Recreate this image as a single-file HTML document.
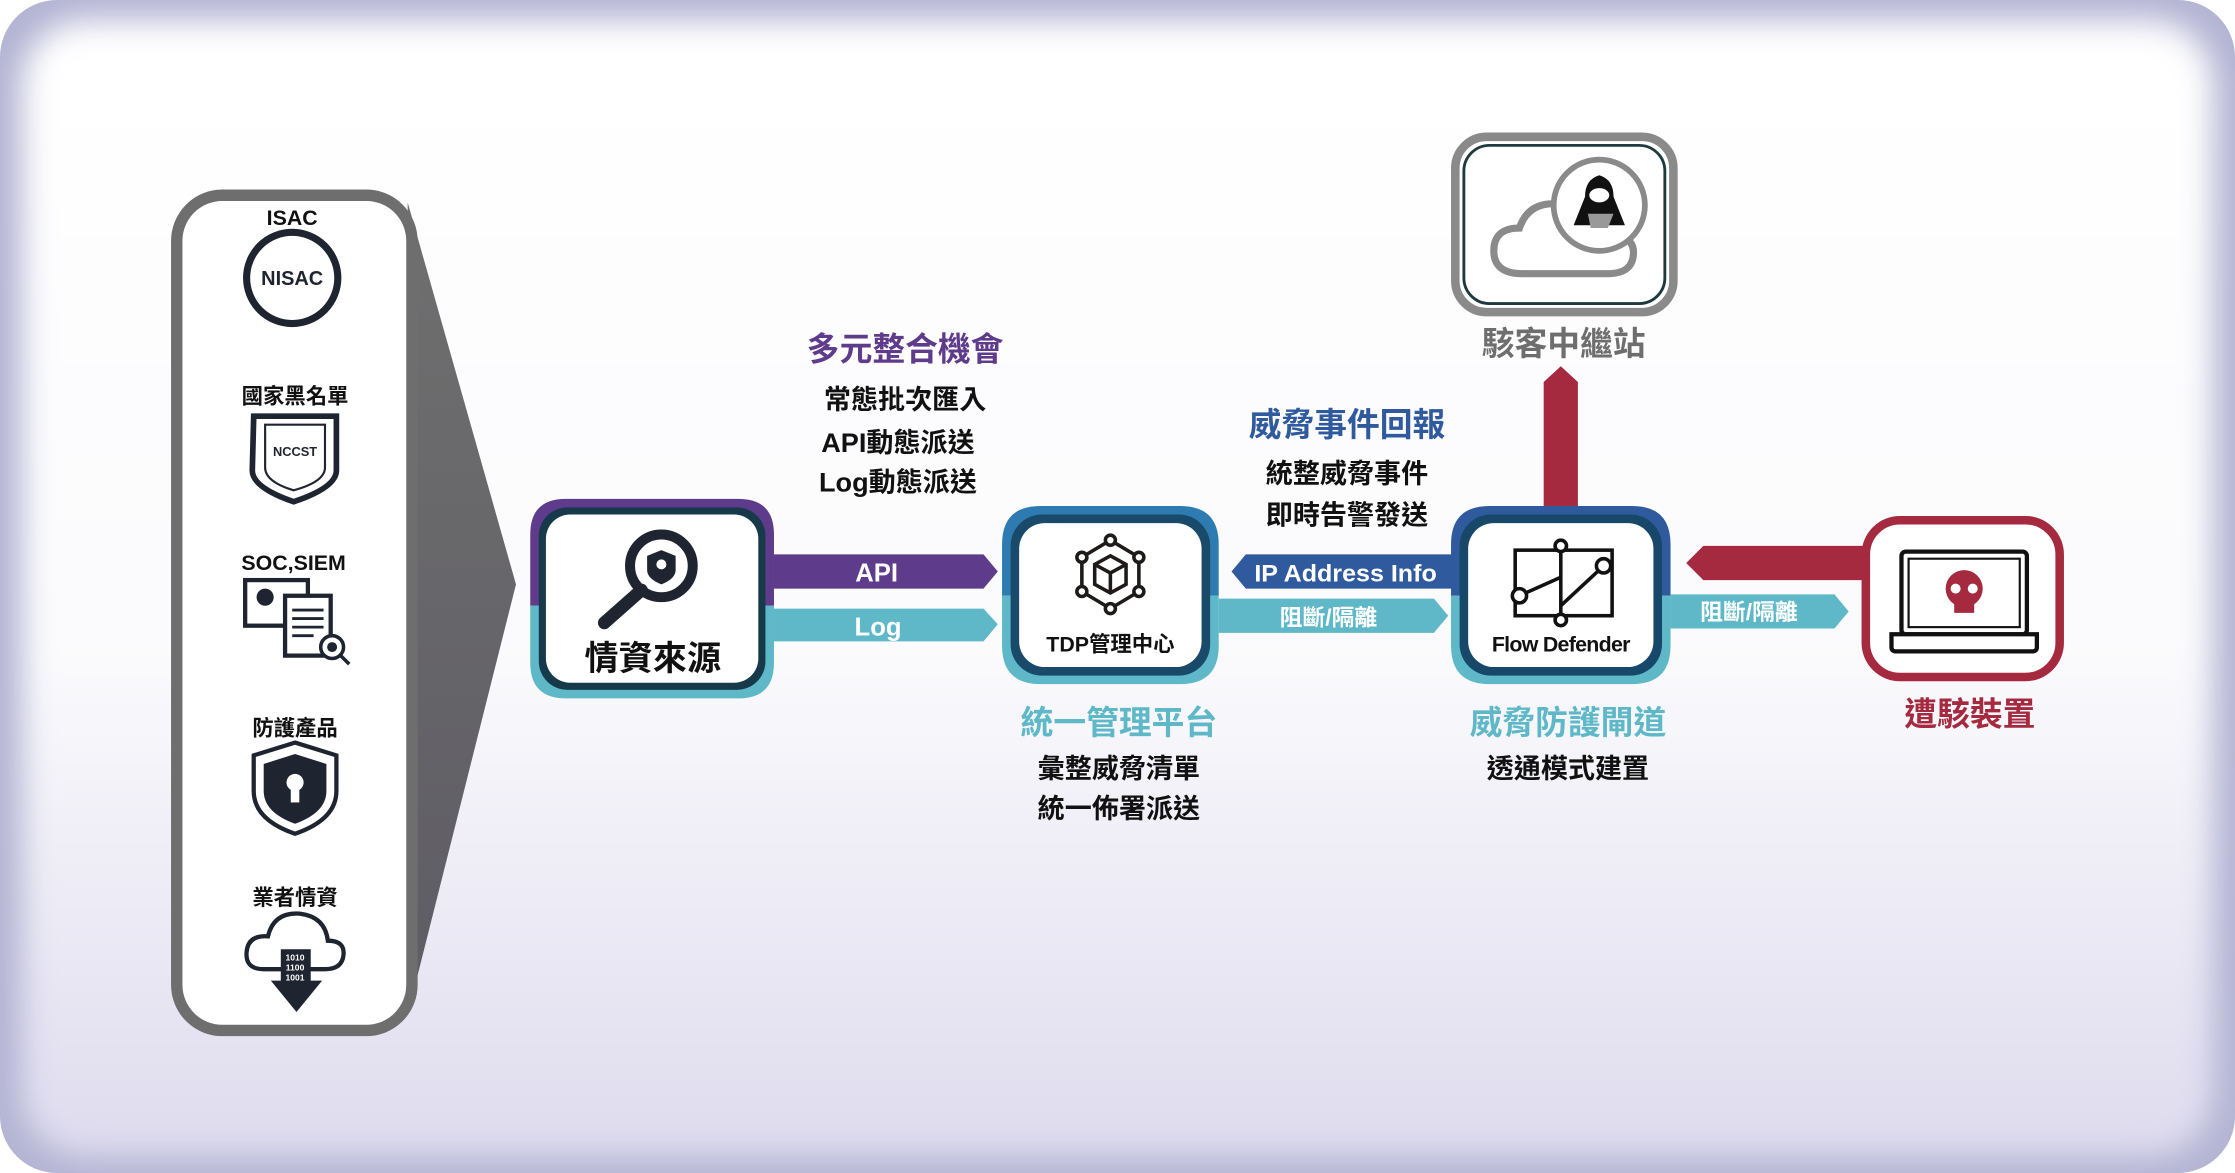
<!DOCTYPE html>
<html><head><meta charset="utf-8"><style>
html,body{margin:0;padding:0;background:#fff;}
svg{display:block;}
text{font-family:"Liberation Sans","Noto Sans CJK TC",sans-serif;font-weight:bold;text-anchor:middle;}
</style></head><body>
<svg width="2235" height="1173" viewBox="0 0 1568 823" preserveAspectRatio="none" xmlns="http://www.w3.org/2000/svg">
<defs>
<linearGradient id="bg" x1="0" y1="0" x2="0" y2="1">
<stop offset="0" stop-color="#ffffff"/><stop offset="0.55" stop-color="#fbfbfd"/><stop offset="1" stop-color="#dedbee"/>
</linearGradient>
<linearGradient id="gr" x1="0" y1="0" x2="0" y2="1">
<stop offset="0" stop-color="#6f6f6f"/><stop offset="1" stop-color="#5e5c64"/>
</linearGradient>
<filter id="bl" x="-10%" y="-10%" width="120%" height="120%"><feGaussianBlur stdDeviation="11"/></filter>
<clipPath id="cc"><rect x="0" y="0" width="1568" height="823" rx="40"/></clipPath>
</defs>
<rect x="0" y="0" width="1568" height="823" rx="40" fill="#b3b3d3"/>
<g clip-path="url(#cc)"><rect x="15" y="14" width="1538" height="798" rx="45" fill="url(#bg)" filter="url(#bl)"/></g>

<!-- left panel -->
<polygon points="286,142 362,410 286,712" fill="url(#gr)"/>
<rect x="124" y="137" width="165" height="586" rx="32" fill="#fff" stroke="#6e6e6e" stroke-width="8"/>
<text x="205" y="158" font-size="15" fill="#111">ISAC</text>
<circle cx="205" cy="195" r="32" fill="#fff" stroke="#1f2530" stroke-width="5"/>
<text x="205" y="200" font-size="14" fill="#1f2530">NISAC</text>
<text x="207" y="283" font-size="15" fill="#111">國家黑名單</text>
<path d="M178,292 L236,292 L236,330 Q236,342 206,352 Q177,342 177,330 Z" fill="#fff" stroke="#1f2530" stroke-width="4"/>
<path d="M186,298 L228,298 L228,328 Q228,338 206,344 Q186,338 186,328 Z" fill="none" stroke="#1f2530" stroke-width="1.5"/>
<text x="207" y="320" font-size="9" fill="#1f2530">NCCST</text>
<text x="206" y="400" font-size="15" fill="#111">SOC,SIEM</text>
<rect x="172" y="407" width="44" height="32" fill="#fff" stroke="#1f2530" stroke-width="3"/>
<circle cx="186" cy="419" r="6" fill="#1f2530"/>
<rect x="200" y="418" width="32" height="42" fill="#fff" stroke="#1f2530" stroke-width="3"/>
<g stroke="#1f2530" stroke-width="2"><line x1="205" y1="428" x2="227" y2="428"/><line x1="205" y1="434" x2="227" y2="434"/><line x1="205" y1="440" x2="227" y2="440"/><line x1="205" y1="446" x2="220" y2="446"/></g>
<circle cx="233" cy="454" r="8" fill="#fff" stroke="#1f2530" stroke-width="2.5"/><circle cx="233" cy="454" r="3.5" fill="#1f2530"/>
<line x1="239" y1="460" x2="245" y2="466" stroke="#1f2530" stroke-width="2.5"/>
<text x="207" y="516" font-size="15" fill="#111">防護產品</text>
<path d="M207,521 L236,530 L236,555 Q236,575 207,585 Q178,575 178,555 L178,530 Z" fill="#fff" stroke="#1f2530" stroke-width="3"/>
<path d="M207,529 L229,536 L229,555 Q229,570 207,578 Q185,570 185,555 L185,536 Z" fill="#1f2530"/>
<circle cx="207" cy="549" r="6" fill="#fff"/><rect x="204" y="551" width="6" height="12" fill="#fff"/>
<text x="207" y="635" font-size="15" fill="#111">業者情資</text>
<path d="M185,680 Q172,680 173,668 Q174,656 188,657 Q192,640 210,641 Q228,643 230,660 Q242,660 241,670 Q240,680 228,680 Z" fill="#fff" stroke="#1f2530" stroke-width="3"/>
<rect x="197" y="666" width="21" height="24" fill="#1f2530"/>
<text x="207" y="674" font-size="6" fill="#fff">1010</text><text x="207" y="681" font-size="6" fill="#fff">1100</text><text x="207" y="688" font-size="6" fill="#fff">1001</text>
<polygon points="190,688 226,688 208,710" fill="#1f2530"/>

<!-- 情資來源 node -->
<path d="M372,425 L372,375 Q372,350 397,350 L518,350 Q543,350 543,375 L543,425 Z" fill="#5f3b8c"/>
<path d="M372,425 L372,465 Q372,490 397,490 L518,490 Q543,490 543,465 L543,425 Z" fill="#5fb8c8"/>
<rect x="378" y="356" width="159" height="128" rx="20" fill="#163a4a"/>
<rect x="383" y="361" width="149" height="118" rx="17" fill="#fff"/>
<circle cx="464" cy="397" r="22" fill="#fff" stroke="#1f2530" stroke-width="7"/>
<path d="M464,386 L474,390 L474,400 Q474,406 464,410 Q454,406 454,400 L454,390 Z" fill="#1f2530"/>
<circle cx="464" cy="396" r="3.5" fill="#fff"/>
<line x1="450" y1="414" x2="424" y2="437" stroke="#1f2530" stroke-width="9" stroke-linecap="round"/>
<text x="458" y="470" font-size="24" fill="#111">情資來源</text>

<!-- API / Log arrows -->
<polygon points="543,389 690,389 700,401 690,413 543,413" fill="#5f3b8c"/>
<text x="615" y="408" font-size="18" fill="#fff">API</text>
<polygon points="543,427 690,427 700,438 690,450 543,450" fill="#5fb8c8"/>
<text x="616" y="446" font-size="18" fill="#fff">Log</text>

<text x="635" y="253" font-size="23" fill="#5f3b8c">多元整合機會</text>
<text x="635" y="287" font-size="19" fill="#111">常態批次匯入</text>
<text x="630" y="317" font-size="19" fill="#111">API動態派送</text>
<text x="630" y="345" font-size="19" fill="#111">Log動態派送</text>

<!-- TDP node -->
<path d="M703,418 L703,382 Q703,355 730,355 L828,355 Q855,355 855,382 L855,418 Z" fill="#2d7bb0"/>
<path d="M703,418 L703,453 Q703,480 730,480 L828,480 Q855,480 855,453 L855,418 Z" fill="#5fb8c8"/>
<rect x="709" y="361" width="140" height="113" rx="22" fill="#1a4a6a"/>
<rect x="715" y="367" width="128" height="101" rx="18" fill="#fff"/>
<g stroke="#1f1a1a" stroke-width="2.5" fill="none">
<polygon points="779,379 799,391 799,415 779,427 759,415 759,391"/>
<polygon points="779,390 790,396 790,410 779,416 768,410 768,396"/>
<polyline points="768,396 779,402 790,396"/><line x1="779" y1="402" x2="779" y2="416"/>
</g>
<g fill="#fff" stroke="#1f1a1a" stroke-width="2.5">
<circle cx="779" cy="379" r="3.5"/><circle cx="799" cy="391" r="3.5"/><circle cx="799" cy="415" r="3.5"/><circle cx="779" cy="427" r="3.5"/><circle cx="759" cy="415" r="3.5"/><circle cx="759" cy="391" r="3.5"/>
</g>
<text x="779" y="457" font-size="15" fill="#111">TDP管理中心</text>

<text x="785" y="515" font-size="23" fill="#5fb8c8">統一管理平台</text>
<text x="785" y="546" font-size="19" fill="#111">彙整威脅清單</text>
<text x="785" y="574" font-size="19" fill="#111">統一佈署派送</text>

<!-- middle arrows -->
<polygon points="1020,389 874,389 864,401 874,413 1020,413" fill="#2f5a9e"/>
<text x="944" y="408" font-size="17" fill="#fff" textLength="128" lengthAdjust="spacingAndGlyphs">IP Address Info</text>
<polygon points="855,420 1006,420 1016,432 1006,444 855,444" fill="#5fb8c8"/>
<text x="932" y="439" font-size="16" fill="#fff">阻斷/隔離</text>
<text x="945" y="306" font-size="23" fill="#2f5a9e">威脅事件回報</text>
<text x="945" y="339" font-size="19" fill="#111">統整威脅事件</text>
<text x="945" y="368" font-size="19" fill="#111">即時告警發送</text>

<!-- hacker relay -->
<polygon points="1083,355 1083,268 1095,257 1107,268 1107,355" fill="#a52a40"/>
<rect x="1021" y="96" width="153" height="123" rx="22" fill="#fff" stroke="#8a8a8a" stroke-width="6"/>
<rect x="1027" y="102" width="141" height="111" rx="18" fill="none" stroke="#1e3a3e" stroke-width="2"/>
<path d="M1068,192 Q1048,192 1048,176 Q1048,160 1066,160 Q1072,142 1092,143 Q1110,145 1115,162 Q1146,162 1146,177 Q1146,192 1128,192 Z" fill="#fff" stroke="#8a8a8a" stroke-width="5"/>
<circle cx="1122" cy="144" r="32" fill="#fff" stroke="#8a8a8a" stroke-width="4"/>
<path d="M1122,123 Q1112,126 1112,138 L1104,158 L1140,158 L1132,138 Q1132,126 1122,123 Z" fill="#111"/>
<ellipse cx="1122" cy="137" rx="7" ry="5" fill="#fff"/>
<polygon points="1114,150 1132,150 1128,160 1116,160" fill="#999"/>
<text x="1097" y="249" font-size="23" fill="#6e6e6e">駭客中繼站</text>

<!-- Flow Defender node -->
<path d="M1018,418 L1018,382 Q1018,355 1045,355 L1145,355 Q1172,355 1172,382 L1172,418 Z" fill="#2f5a9e"/>
<path d="M1018,418 L1018,453 Q1018,480 1045,480 L1145,480 Q1172,480 1172,453 L1172,418 Z" fill="#5fb8c8"/>
<rect x="1024" y="361" width="142" height="113" rx="22" fill="#174869"/>
<rect x="1030" y="367" width="130" height="101" rx="18" fill="#fff"/>
<g stroke="#111" stroke-width="2.5" fill="none">
<rect x="1063" y="386" width="68" height="46"/>
<line x1="1095" y1="383" x2="1095" y2="435"/>
<line x1="1066" y1="418" x2="1095" y2="405"/><line x1="1095" y1="425" x2="1124" y2="398"/>
</g>
<g fill="#fff" stroke="#111" stroke-width="2.5">
<circle cx="1095" cy="383" r="4"/><circle cx="1095" cy="435" r="4"/><circle cx="1066" cy="418" r="5"/><circle cx="1125" cy="397" r="5"/>
</g>
<text x="1095" y="457" font-size="15" fill="#111" letter-spacing="-0.5">Flow Defender</text>
<text x="1100" y="515" font-size="23" fill="#5fb8c8">威脅防護閘道</text>
<text x="1100" y="546" font-size="19" fill="#111">透通模式建置</text>

<!-- right arrows -->
<polygon points="1310,383 1195,383 1183,395 1195,407 1310,407" fill="#a52a40"/>
<polygon points="1172,417 1287,417 1297,429 1287,441 1172,441" fill="#5fb8c8"/>
<text x="1227" y="435" font-size="16" fill="#fff">阻斷/隔離</text>

<!-- infected device -->
<rect x="1309" y="365" width="136" height="110" rx="24" fill="#fff" stroke="#a52a40" stroke-width="6"/>
<rect x="1334" y="387" width="88" height="58" rx="3" fill="#fff" stroke="#111" stroke-width="3"/>
<rect x="1339" y="392" width="78" height="48" fill="none" stroke="#111" stroke-width="1.5"/>
<path d="M1327,445 L1429,445 L1429,454 Q1429,457 1426,457 L1330,457 Q1327,457 1327,454 Z" fill="#fff" stroke="#111" stroke-width="3"/>
<circle cx="1378" cy="413" r="13" fill="#a52a40"/>
<rect x="1371" y="420" width="14" height="10" fill="#a52a40"/>
<circle cx="1372" cy="413" r="3.5" fill="#fff"/><circle cx="1384" cy="413" r="3.5" fill="#fff"/>
<text x="1382" y="509" font-size="23" fill="#a52a40">遭駭裝置</text>
</svg>
</body></html>
